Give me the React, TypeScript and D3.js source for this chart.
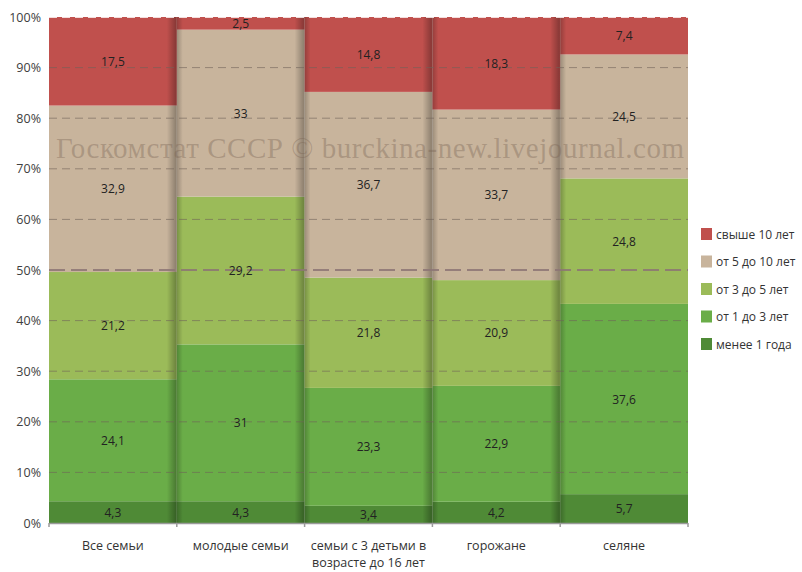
import React, { useEffect, useRef } from 'react';
import * as d3 from 'd3';

const categories = ['Все семьи', 'молодые семьи', 'семьи с 3 детьми в возрасте до 16 лет', 'горожане', 'селяне'];
const seriesNames = ['менее 1 года', 'от 1 до 3 лет', 'от 3 до 5 лет', 'от 5 до 10 лет', 'свыше 10 лет'];
const lessThan1 = [4.3, 4.3, 3.4, 4.2, 5.7];
const from1to3 = [24.1, 31, 23.3, 22.9, 37.6];
const from3to5 = [21.2, 29.2, 21.8, 20.9, 24.8];
const from5to10 = [32.9, 33, 36.7, 33.7, 24.5];
const over10 = [17.5, 2.5, 14.8, 18.3, 7.4];
const yTicks = [0, 10, 20, 30, 40, 50, 60, 70, 80, 90, 100];
const colors = ['#4f8a36', '#6aad48', '#9bbb59', '#c8b49c', '#c0504d'];

const W = 802;
const H = 572;

const App: React.FC = () => {
  const svgRef = useRef<SVGSVGElement>(null);

  useEffect(() => {
    if (!svgRef.current) return;
    const svg = d3.select(svgRef.current);
    svg.selectAll('*').remove();

    const x = d3.scaleBand<string>().domain(categories).range([49, 688]).padding(0);
    const y = d3.scaleLinear().domain([0, 100]).range([523, 17]);

    const series = [lessThan1, from1to3, from3to5, from5to10, over10];
    const rows = categories.map((c, i) => {
      const r: any = { cat: c };
      seriesNames.forEach((s, j) => (r[s] = series[j][i]));
      return r;
    });
    const stacked = d3.stack<any>().keys(seriesNames)(rows);

    const defs = svg.append('defs');
    const grad = defs.append('linearGradient').attr('id', 'shadow').attr('x1', '0').attr('x2', '1');
    grad.append('stop').attr('offset', '0%').attr('stop-color', '#000').attr('stop-opacity', 0);
    grad.append('stop').attr('offset', '55%').attr('stop-color', '#000').attr('stop-opacity', 0.28);
    grad.append('stop').attr('offset', '70%').attr('stop-color', '#000').attr('stop-opacity', 0.18);
    grad.append('stop').attr('offset', '100%').attr('stop-color', '#000').attr('stop-opacity', 0);

    // сегменты
    stacked.forEach((layer, j) => {
      svg.append('g')
        .selectAll('rect')
        .data(layer)
        .enter()
        .append('rect')
        .attr('x', d => x(d.data.cat) || 0)
        .attr('y', d => y(d[1]))
        .attr('width', x.bandwidth())
        .attr('height', d => y(d[0]) - y(d[1]))
        .attr('fill', colors[j]);
    });

    // тени между столбцами
    svg.append('g')
      .selectAll('rect')
      .data(categories.slice(1))
      .enter()
      .append('rect')
      .attr('x', d => (x(d) || 0) - 10)
      .attr('y', y(100))
      .attr('width', 16)
      .attr('height', y(0) - y(100))
      .attr('fill', 'url(#shadow)');

    // сетка
    svg.append('g')
      .selectAll('line')
      .data(yTicks.filter(t => t > 0 && t < 100))
      .enter()
      .append('line')
      .attr('x1', 49)
      .attr('x2', 688)
      .attr('y1', d => y(d))
      .attr('y2', d => y(d))
      .attr('stroke', d => (d === 50 ? '#8c7474' : '#6f6258'))
      .attr('stroke-opacity', d => (d === 50 ? 0.85 : 0.6))
      .attr('stroke-width', d => (d === 50 ? 2 : 1))
      .attr('stroke-dasharray', d => (d === 50 ? '16,6' : '8,5'));

    svg.append('line')
      .attr('x1', 49).attr('x2', 688)
      .attr('y1', y(100) + 0.5).attr('y2', y(100) + 0.5)
      .attr('stroke', '#fff').attr('stroke-opacity', 0.8)
      .attr('stroke-dasharray', '8,5');

    // водяной знак
    svg.append('text')
      .attr('x', 370)
      .attr('y', 158)
      .attr('text-anchor', 'middle')
      .attr('font-family', '"Liberation Serif", "DejaVu Serif", serif')
      .attr('font-size', 29)
      .attr('fill', '#7a6454')
      .attr('fill-opacity', 0.38)
      .attr('textLength', 628)
      .text('Госкомстат СССР © burckina-new.livejournal.com');

    // подписи значений
    stacked.forEach(layer => {
      svg.append('g')
        .selectAll('text')
        .data(layer)
        .enter()
        .append('text')
        .attr('x', d => (x(d.data.cat) || 0) + x.bandwidth() / 2)
        .attr('y', d => y((d[0] + d[1]) / 2) + 4.5)
        .attr('text-anchor', 'middle')
        .attr('font-family', '"Open Sans", sans-serif')
        .attr('font-size', 12)
        .attr('fill', '#222')
        .text(d => String(d[1] - d[0] > 0 ? +(d[1] - d[0]).toFixed(1) : '').replace('.', ','));
    });

    // ось X
    svg.append('line')
      .attr('x1', 49).attr('x2', 688)
      .attr('y1', y(0) + 0.5).attr('y2', y(0) + 0.5)
      .attr('stroke', '#9a9a9a').attr('stroke-width', 1.5);
    svg.append('g')
      .selectAll('line')
      .data([...categories.map(c => x(c) || 0), 688])
      .enter()
      .append('line')
      .attr('x1', d => d).attr('x2', d => d)
      .attr('y1', y(0)).attr('y2', y(0) + 4)
      .attr('stroke', '#9a9a9a').attr('stroke-width', 1.5);

    const catLines: Record<string, string[]> = {
      'семьи с 3 детьми в возрасте до 16 лет': ['семьи с 3 детьми в', 'возрасте до 16 лет'],
    };
    categories.forEach(c => {
      const lines = catLines[c] || [c];
      const t = svg.append('text')
        .attr('text-anchor', 'middle')
        .attr('font-family', '"Open Sans", sans-serif')
        .attr('font-size', 12.5)
        .attr('fill', '#333');
      lines.forEach((l, i) => {
        t.append('tspan')
          .attr('x', (x(c) || 0) + x.bandwidth() / 2)
          .attr('y', 550 + i * 17)
          .text(l);
      });
    });

    // ось Y
    svg.append('g')
      .selectAll('text')
      .data(yTicks)
      .enter()
      .append('text')
      .attr('x', 41)
      .attr('y', d => y(d) + 4.5)
      .attr('text-anchor', 'end')
      .attr('font-family', '"Open Sans", sans-serif')
      .attr('font-size', 12.5)
      .attr('fill', '#404040')
      .text(d => `${d}%`);

    // легенда
    const legendOrder = [...seriesNames].reverse();
    const lg = svg.append('g');
    legendOrder.forEach((s, i) => {
      const ly = 228 + i * 27.5;
      lg.append('rect')
        .attr('x', 701).attr('y', ly)
        .attr('width', 11).attr('height', 12)
        .attr('fill', colors[seriesNames.indexOf(s)]);
      lg.append('text')
        .attr('x', 716).attr('y', ly + 10.5)
        .attr('font-family', '"Open Sans", sans-serif')
        .attr('font-size', 12)
        .attr('fill', '#333')
        .text(s);
    });
  }, []);

  return (
    <div style={{ position: 'fixed', left: 0, top: 0, width: W, height: H, background: '#fff' }}>
      <svg ref={svgRef} width={W} height={H} />
    </div>
  );
};

export default App;
